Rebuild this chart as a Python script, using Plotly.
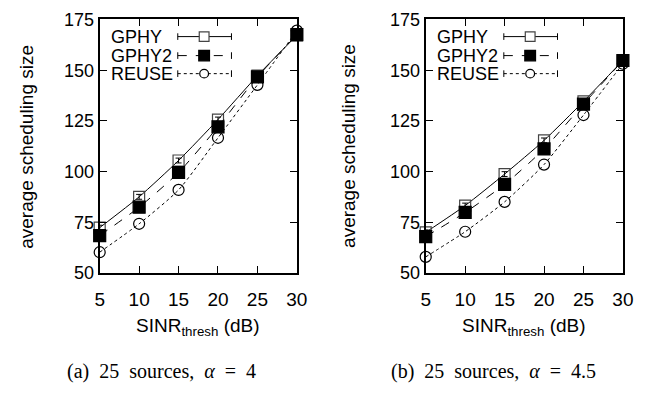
import plotly.graph_objects as go

x_vals = [5, 10, 15, 20, 25, 30]
# (a) alpha = 4
gphy_a = [72.4, 87.6, 105.5, 125.7, 147.3, 167.2]
gphy2_a = [68.5, 82.5, 99.6, 122.1, 146.7, 167.5]
reuse_a = [60.3, 74.3, 91.0, 116.7, 142.8, 169.5]
# (b) alpha = 4.5
gphy_b = [70.1, 83.3, 98.8, 115.4, 134.6, 154.8]
gphy2_b = [68.0, 79.9, 93.7, 111.2, 133.3, 154.8]
reuse_b = [58.0, 70.4, 85.1, 103.5, 127.9, 153.2]
gphy_err = [1.2, 1.2, 1.2, 1.2, 1.2, 1.2]

y_ticks = [50, 75, 100, 125, 150, 175]
x_ticks = [5, 10, 15, 20, 25, 30]
series_names = ["GPHY", "GPHY2", "REUSE"]
captions = ["(a)  25  sources,  <i>α</i>  =  4", "(b)  25  sources,  <i>α</i>  =  4.5"]

W, H = 671, 399
def px(x):
    return x / W
def py(y):
    return 1 - y / H

FONT = "Liberation Sans, Arial, sans-serif"
FS = 19
fig = go.Figure()

panels = [
    ("x", "y", gphy_a, gphy2_a, reuse_a, 97, 299, 22, 160),
    ("x2", "y2", gphy_b, gphy2_b, reuse_b, 431, 633, 352, 500),
]
top, bottom = 10, 277

styles = [
    dict(dash="solid", symbol="square-open", color="#444444", size=11),
    dict(dash="dash", symbol="square", color="black", size=12),
    dict(dash="dot", symbol="circle-open", color="black", size=11),
]

shapes = []
annotations = []
for i, (xa, ya, g, g2, r, left, right, ytx, capx) in enumerate(panels):
    for j, (name, vals) in enumerate(zip(series_names, [g, g2, r])):
        st = styles[j]
        tr = dict(
            x=x_vals, y=vals, mode="lines+markers", name=name,
            xaxis=xa, yaxis=ya, showlegend=False, cliponaxis=False,
            line=dict(color="black", width=1, dash=st["dash"], shape="spline", smoothing=0.6),
            marker=dict(symbol=st["symbol"], size=st["size"], color=st["color"],
                        line=dict(color=st["color"], width=1.2)),
        )
        if j == 0:
            tr["error_y"] = dict(type="data", array=gphy_err, color="black", thickness=1, width=3)
        fig.add_trace(go.Scatter(**tr))
    # manual legend (text left of sample)
    rows = [28, 48, 67]
    for j, name in enumerate(series_names):
        st = styles[j]
        yy = rows[j]
        annotations.append(dict(
            x=px(left + 10), y=py(yy), xref="paper", yref="paper",
            text=name, showarrow=False, xanchor="left", yanchor="middle",
            font=dict(family=FONT, size=18, color="black"),
        ))
        x0, x1 = left + 80, left + 135
        shapes.append(dict(type="line", xref="paper", yref="paper",
                           x0=px(x0), x1=px(x1), y0=py(yy), y1=py(yy),
                           line=dict(color="black", width=1, dash=st["dash"])))
        for xe in (x0, x1):
            shapes.append(dict(type="line", xref="paper", yref="paper",
                               x0=px(xe), x1=px(xe), y0=py(yy - 3.5), y1=py(yy + 3.5),
                               line=dict(color="black", width=1)))
        mx = left + 107
        if j == 2:
            shapes.append(dict(type="circle", xref="paper", yref="paper",
                               x0=px(mx - 4.5), x1=px(mx + 4.5), y0=py(yy - 4.5), y1=py(yy + 4.5),
                               line=dict(color="black", width=1.2), fillcolor="white"))
        else:
            s = 5 if j == 0 else 5.5
            shapes.append(dict(type="rect", xref="paper", yref="paper",
                               x0=px(mx - s), x1=px(mx + s), y0=py(yy - s), y1=py(yy + s),
                               line=dict(color=st["color"], width=1.2),
                               fillcolor="white" if j == 0 else "black"))
    cx = (left + right) / 2
    annotations.append(dict(
        x=px(cx), y=py(334), xref="paper", yref="paper",
        text="SINR<sub>thresh</sub> (dB)", showarrow=False, xanchor="center", yanchor="middle",
        font=dict(family=FONT, size=FS, color="black"),
    ))
    annotations.append(dict(
        x=px(ytx), y=py((top + bottom) / 2), xref="paper", yref="paper",
        text="average scheduling size", showarrow=False, textangle=-90,
        xanchor="center", yanchor="middle",
        font=dict(family=FONT, size=FS, color="black"),
    ))
    annotations.append(dict(
        x=px(capx), y=py(381), xref="paper", yref="paper",
        text=captions[i], showarrow=False, xanchor="center", yanchor="middle",
        font=dict(family="Liberation Serif, Times New Roman, serif", size=20, color="black"),
    ))

axis_common = dict(
    showgrid=False, zeroline=False, showline=True, linecolor="black", linewidth=2,
    mirror="allticks", ticks="inside", ticklen=7, tickwidth=1, tickcolor="black",
)
xfont = dict(family=FONT, size=FS, color="black")
yfont = dict(family=FONT, size=18, color="black")

yr = [50, 175]
xr = [5, 30]
fig.update_layout(
    width=W, height=H,
    margin=dict(l=0, r=0, t=0, b=0),
    paper_bgcolor="white", plot_bgcolor="white",
    showlegend=False,
    xaxis=dict(domain=[px(97), px(299)], range=xr, tickvals=x_ticks, anchor="y",
               ticklabelstandoff=8, tickfont=xfont, **axis_common),
    yaxis=dict(domain=[py(bottom), py(top)], range=yr, tickvals=y_ticks, anchor="x",
               ticksuffix=" ", tickfont=yfont, **axis_common),
    xaxis2=dict(domain=[px(431), px(633)], range=xr, tickvals=x_ticks, anchor="y2",
                ticklabelstandoff=8, tickfont=xfont, **axis_common),
    yaxis2=dict(domain=[py(bottom), py(top)], range=yr, tickvals=y_ticks, anchor="x2",
                ticksuffix=" ", tickfont=yfont, **axis_common),
    shapes=shapes,
    annotations=annotations,
)

fig.write_html("out.html")
